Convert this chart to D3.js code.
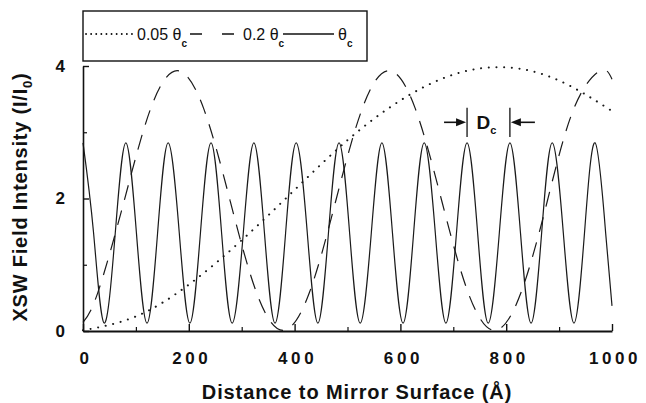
<!DOCTYPE html>
<html>
<head>
<meta charset="utf-8">
<script src="https://cdn.jsdelivr.net/npm/d3@7"></script>
<style>
  body { margin: 0; background: #fff; }
  svg { display: block; }
  .tick text { font-family: "Liberation Sans", Arial, sans-serif; font-weight: bold; fill: #111; }
</style>
</head>
<body>
<svg id="canvas"></svg>
<script>
// values: [distance (Å), intensity (I/I0)]
let solidPts = [
  [0, 2.84], [20, 1.48], [40, 0.12], [61, 1.48], [81, 2.84], [101, 1.48], [121, 0.12], [141, 1.48],
  [161, 2.84], [182, 1.48], [202, 0.12], [222, 1.48], [242, 2.84], [262, 1.48], [282, 0.12], [303, 1.48],
  [323, 2.84], [343, 1.48], [363, 0.12], [383, 1.48], [403, 2.84], [424, 1.48], [444, 0.12], [464, 1.48],
  [484, 2.84], [504, 1.48], [524, 0.12], [545, 1.48], [565, 2.84], [585, 1.48], [605, 0.12], [625, 1.48],
  [645, 2.84], [666, 1.48], [686, 0.12], [706, 1.48], [726, 2.84], [746, 1.48], [766, 0.12], [787, 1.48],
  [807, 2.84], [827, 1.48], [847, 0.12], [867, 1.48], [887, 2.84], [908, 1.48], [928, 0.12], [948, 1.48],
  [968, 2.84], [988, 1.48], [1000, 0.38]
]
let dashedPts = [
  [0, 0.13], [28, 0.58], [78, 1.97], [128, 3.36], [178, 3.93], [228, 3.36], [278, 1.97], [328, 0.58],
  [378, 0.01], [428, 0.58], [478, 1.97], [528, 3.36], [578, 3.93], [628, 3.36], [678, 1.97], [728, 0.58],
  [778, 0.01], [828, 0.58], [878, 1.97], [928, 3.36], [978, 3.93], [1000, 3.80]
]
let dottedPts = [
  [0, 0.01], [100, 0.22], [200, 0.70], [300, 1.37], [400, 2.13], [500, 2.88],
  [600, 3.48], [700, 3.87], [800, 3.98], [900, 3.78], [1000, 3.32]
]
let xMajor = [0, 200, 400, 600, 800, 1000]
let xMinor = [100, 300, 500, 700, 900]
let yMajor = [0, 2, 4]
let yMinor = [1, 3]
let dcPeaks = [726, 807]

let width = 646
let height = 403
let font = "'Liberation Sans', Arial, sans-serif"

let svg = d3.select("#canvas")
    .attr("width", width)
    .attr("height", height)

let xScale = d3.scaleLinear().domain([0, 1000]).range([83, 612])
let yScale = d3.scaleLinear().domain([0, 4]).range([331, 66])

let line = d3.line()
    .x((d) => xScale(d[0]))
    .y((d) => yScale(d[1]))
    .curve(d3.curveNatural)

let drawAxes = () => {
    let xAxis = d3.axisBottom(xScale).tickValues(xMajor).tickSize(-7).tickSizeOuter(0).tickPadding(21)
        .tickFormat(d3.format("d"))
    let xAxisMinor = d3.axisBottom(xScale).tickValues(xMinor).tickSize(-4).tickFormat("")
    let yAxis = d3.axisLeft(yScale).tickValues(yMajor).tickSize(-6).tickSizeOuter(0).tickPadding(18).tickFormat(d3.format("d"))
    let yAxisMinor = d3.axisLeft(yScale).tickValues(yMinor).tickSize(-4).tickFormat("")

    let gx = svg.append("g")
        .attr("transform", "translate(0," + yScale(0) + ")")
        .call(xAxis)
    gx.select(".domain").attr("stroke-width", 2.2).attr("stroke", "#111")
    gx.selectAll(".tick line").attr("stroke-width", 1.4).attr("stroke", "#111")
    gx.selectAll(".tick text").attr("font-size", 17).attr("letter-spacing", 3.6)
        .attr("dx", 2.5)

    let gxm = svg.append("g")
        .attr("transform", "translate(0," + yScale(0) + ")")
        .call(xAxisMinor)
    gxm.select(".domain").remove()
    gxm.selectAll(".tick line").attr("stroke-width", 1.2).attr("stroke", "#111")

    let gy = svg.append("g")
        .attr("transform", "translate(" + xScale(0) + ",0)")
        .call(yAxis)
    gy.select(".domain").attr("stroke-width", 1.6).attr("stroke", "#111")
    gy.selectAll(".tick line").attr("stroke-width", 1.4).attr("stroke", "#111")
    gy.selectAll(".tick text").attr("font-size", 17)

    let gym = svg.append("g")
        .attr("transform", "translate(" + xScale(0) + ",0)")
        .call(yAxisMinor)
    gym.select(".domain").remove()
    gym.selectAll(".tick line").attr("stroke-width", 1.2).attr("stroke", "#111")

    svg.append("text")
        .attr("x", 357)
        .attr("y", 399)
        .attr("text-anchor", "middle")
        .attr("font-family", font)
        .attr("font-weight", "bold")
        .attr("font-size", 20)
        .attr("letter-spacing", 0.9)
        .attr("fill", "#111")
        .text("Distance to Mirror Surface (Å)")

    let yl = svg.append("text")
        .attr("transform", "translate(27,197) rotate(-90)")
        .attr("text-anchor", "middle")
        .attr("font-family", font)
        .attr("font-weight", "bold")
        .attr("font-size", 20)
        .attr("letter-spacing", 0.8)
        .attr("fill", "#111")
    yl.append("tspan").text("XSW Field Intensity (I/I")
    yl.append("tspan").attr("font-size", 13).attr("dy", 5).text("0")
    yl.append("tspan").attr("dy", -5).text(")")
}

let drawCurves = () => {
    svg.append("path")
        .datum(solidPts)
        .attr("d", line)
        .attr("fill", "none")
        .attr("stroke", "#1a1a1a")
        .attr("stroke-width", 1.2)

    svg.append("path")
        .datum(dashedPts)
        .attr("d", line)
        .attr("fill", "none")
        .attr("stroke", "#1a1a1a")
        .attr("stroke-width", 1.2)
        .attr("stroke-dasharray", "15,11")

    svg.append("path")
        .datum(dottedPts)
        .attr("d", line)
        .attr("fill", "none")
        .attr("stroke", "#1a1a1a")
        .attr("stroke-width", 2)
        .attr("stroke-linecap", "round")
        .attr("stroke-dasharray", "0.1,7.6")
}

let drawDc = () => {
    let x1 = xScale(dcPeaks[0])
    let x2 = xScale(dcPeaks[1])
    let yc = yScale(3.15)
    svg.selectAll("line.dc")
        .data(dcPeaks)
        .enter()
        .append("line")
        .attr("class", "dc")
        .attr("x1", (d) => xScale(d))
        .attr("x2", (d) => xScale(d))
        .attr("y1", yScale(3.37))
        .attr("y2", yScale(2.93))
        .attr("stroke", "#111")
        .attr("stroke-width", 1.3)

    svg.append("line").attr("x1", x1 - 23).attr("x2", x1 - 8).attr("y1", yc).attr("y2", yc)
        .attr("stroke", "#111").attr("stroke-width", 1.6)
    svg.append("path")
        .attr("d", "M" + (x1 - 1) + "," + yc + "L" + (x1 - 11) + "," + (yc - 4) + "L" + (x1 - 11) + "," + (yc + 4) + "Z")
        .attr("fill", "#111")
    svg.append("line").attr("x1", x2 + 8).attr("x2", x2 + 25).attr("y1", yc).attr("y2", yc)
        .attr("stroke", "#111").attr("stroke-width", 1.6)
    svg.append("path")
        .attr("d", "M" + (x2 + 1) + "," + yc + "L" + (x2 + 11) + "," + (yc - 4) + "L" + (x2 + 11) + "," + (yc + 4) + "Z")
        .attr("fill", "#111")

    let t = svg.append("text")
        .attr("x", (x1 + x2) / 2 - 2)
        .attr("y", yc + 7)
        .attr("text-anchor", "middle")
        .attr("font-family", font)
        .attr("font-weight", "bold")
        .attr("font-size", 19)
        .attr("fill", "#111")
    t.append("tspan").text("D")
    t.append("tspan").attr("font-size", 11).attr("dy", 5).text("c")
}

let drawLegend = () => {
    let g = svg.append("g")
    g.append("rect")
        .attr("x", 83).attr("y", 11).attr("width", 284).attr("height", 50)
        .attr("fill", "#fff").attr("stroke", "#111").attr("stroke-width", 1.4)

    let items = [
        { label: "0.05 θ", dash: "0.1,5", cap: "round", w: 1.8, x1: 86, x2: 132, tx: 137 },
        { label: "0.2 θ", dash: "12,20", cap: "butt", w: 1.4, x1: 190, x2: 237, tx: 243 },
        { label: "θ", dash: null, cap: "butt", w: 1.4, x1: 283, x2: 334, tx: 338 }
    ]
    items.forEach((it) => {
        g.append("line")
            .attr("x1", it.x1).attr("x2", it.x2).attr("y1", 34).attr("y2", 34)
            .attr("stroke", "#111").attr("stroke-width", it.w)
            .attr("stroke-linecap", it.cap)
            .attr("stroke-dasharray", it.dash)
        let t = g.append("text")
            .attr("x", it.tx).attr("y", 40)
            .attr("font-family", font)
            .attr("font-size", 16)
            .attr("fill", "#111")
        t.append("tspan").text(it.label)
        t.append("tspan").attr("font-size", 10).attr("font-weight", "bold").attr("dy", 7).text("c")
    })
}

drawCurves()
drawAxes()
drawDc()
drawLegend()
</script>
</body>
</html>
